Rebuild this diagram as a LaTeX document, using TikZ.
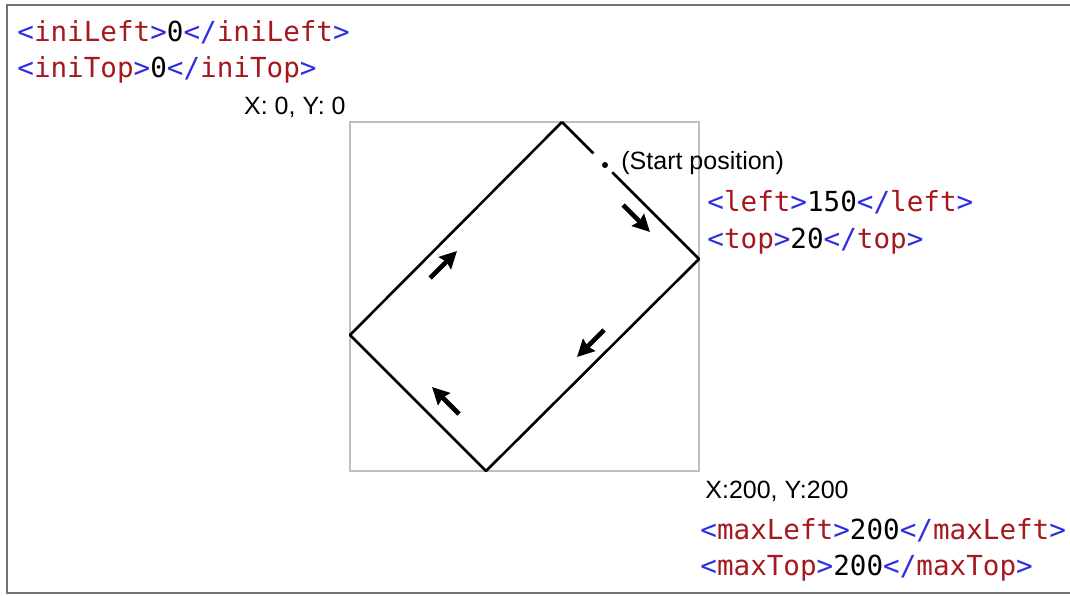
\documentclass[tikz,border=0pt]{standalone}
\usepackage{fontspec}
\setmainfont{Liberation Sans}
\setmonofont{DejaVu Sans Mono}
\usetikzlibrary{arrows.meta, positioning}

\definecolor{tagblue}{RGB}{45,45,225}
\definecolor{tagred}{RGB}{165,25,30}
\newcommand{\xtag}[2]{\textcolor{tagblue}{<}\textcolor{tagred}{#1}\textcolor{tagblue}{>}#2\textcolor{tagblue}{</}\textcolor{tagred}{#1}\textcolor{tagblue}{>}}

\begin{document}
\begin{tikzpicture}[
        x=0.5pt, y=-0.5pt, >={Stealth[length=8.5pt, width=8.5pt, inset=1pt]},
        xml/.style={font=\ttfamily\fontsize{13.8}{16}\selectfont, anchor=west, inner sep=0pt},
        lab/.style={font=\fontsize{12.5}{15}\selectfont, inner sep=0pt},
        box/.style={draw=black!25, line width=1pt},
        path/.style={line width=1.3pt, line join=round},
        dir/.style={->, line width=2.3pt}
    ]
        \useasboundingbox (0,0) rectangle (1070,595);
        % frame
        \draw[black!55, line width=1.2pt] (1070,5) -- (7,5) -- (7,593) -- (1070,593);

        \node[xml] (inileft) at (17,32) {\xtag{iniLeft}{0}};
        \node[xml] (initop) at (17,70) {\xtag{iniTop}{0}};

        % area
        \draw[box] (350,122) rectangle (699,471);
        \node[lab, anchor=east] (orig) at (346,107) {X: 0, Y: 0};
        \node[lab, anchor=west] (maxpt) at (705,491) {X:200, Y:200};
        \node[xml] (maxleft) at (700,530) {\xtag{maxLeft}{200}};
        \node[xml] (maxtop) at (700,568) {\xtag{maxTop}{200}};

        % rotated rectangle
        \coordinate (ctop) at (562,122);
        \coordinate (cright) at (699,259);
        \coordinate (cbot) at (486,471);
        \coordinate (cleft) at (350,335);
        \node[circle, fill=black, inner sep=0pt, minimum size=3pt] (start) at (605,165) {};
        \draw[path, shorten >=6.5pt] (ctop) -- (start);
        \draw[path, shorten <=3.5pt] (start) -- (cright) -- (cbot) -- (cleft) -- (ctop);
        \node[lab, anchor=west] (startlab) at (621,163) {(Start position)};
        \node[xml] (left) at (707,202) {\xtag{left}{150}};
        \node[xml] (top) at (707,241) {\xtag{top}{20}};

        % direction
        \draw[dir] (623,205) -- (650,232);
        \draw[dir] (604,330) -- (577,357);
        \draw[dir] (459,414) -- (432,387);
        \draw[dir] (430,278) -- (457,251);
    \end{tikzpicture}
\end{document}
